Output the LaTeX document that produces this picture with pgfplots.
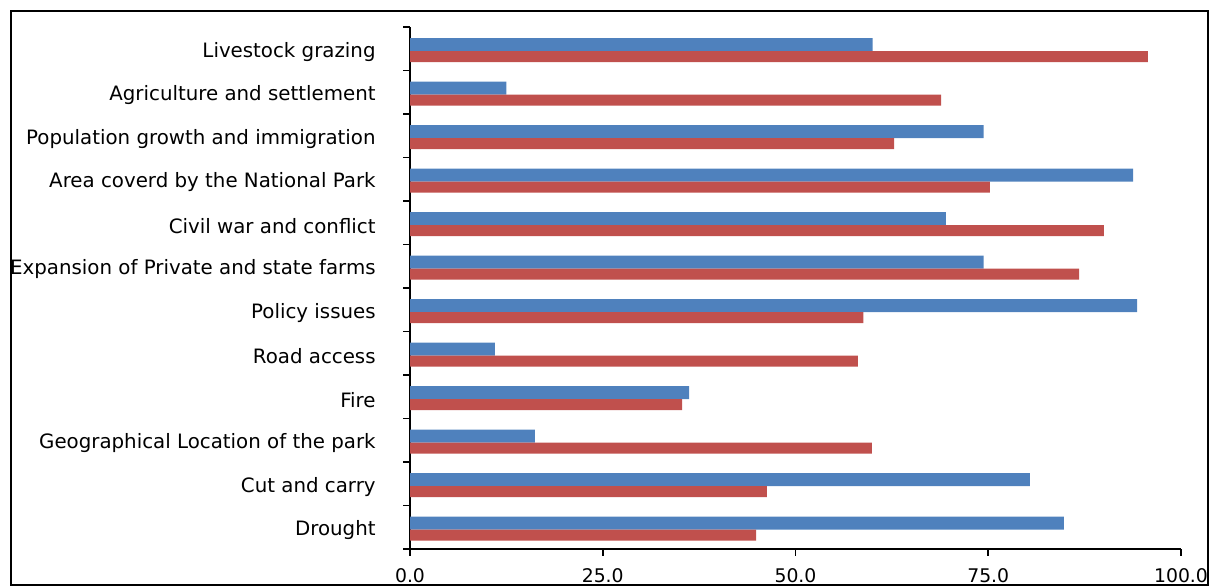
\documentclass[border=0pt]{standalone}
\usepackage{pgfplots}
\pgfplotsset{compat=1.18}
\usepackage{fontspec}
\setmainfont{DejaVu Sans}
\definecolor{barblue}{RGB}{79,129,189}
\definecolor{barred}{RGB}{192,80,77}
\begin{document}
\begin{tikzpicture}
% page is 1219x587 px at 0.5pt per px
\useasboundingbox (0,0) rectangle (609.5pt,293.5pt);
\clip (0,0) rectangle (609.5pt,293.5pt);
\begin{axis}[
    at={(205pt,19pt)}, anchor=south west,
    scale only axis,
    width=385.5pt, height=261pt,
    xmin=0, xmax=100,
    ymin=-0.5, ymax=11.5,
    axis lines*=left,
    axis line style={line width=0.9pt},
    tick align=outside,
    major tick length=3.5pt,
    tick style={line width=0.9pt, black},
    xtick={0,25,50,75,100},
    xticklabels={0.0,25.0,50.0,75.0,100.0},
    xticklabel style={font=\fontsize{9.4}{11}\selectfont, inner sep=0pt, yshift=-6pt},
    ytick={-0.5,0.5,...,11.5},
    yticklabels={},
    extra y ticks={0,1,...,11},
    extra y tick labels={Drought,Cut and carry,Geographical Location of the park,Fire,Road access,Policy issues,Expansion of Private and state farms,Civil war and conflict,Area coverd by the National Park,Population growth and immigration,Agriculture and settlement,Livestock grazing},
    extra y tick style={major tick length=0pt,
        yticklabel style={font=\fontsize{9.9}{12}\selectfont, inner sep=0pt, xshift=-17pt, yshift=-1.5pt}},
    xbar,
]
\addplot[draw=none, fill=barblue, bar width=6.5pt, bar shift=2pt] coordinates {
    (84.8,0) (80.4,1) (16.2,2) (36.2,3) (11.0,4) (94.3,5)
    (74.4,6) (69.5,7) (93.8,8) (74.4,9) (12.5,10) (60.0,11)
};
\addplot[draw=none, fill=barred, bar width=5.5pt, bar shift=-4pt] coordinates {
    (44.9,0) (46.3,1) (59.9,2) (35.3,3) (58.1,4) (58.8,5)
    (86.8,6) (90.0,7) (75.2,8) (62.8,9) (68.9,10) (95.7,11)
};
\end{axis}
\draw[line width=1pt] (5.5pt,1pt) rectangle (604pt,288pt);
\end{tikzpicture}
\end{document}
